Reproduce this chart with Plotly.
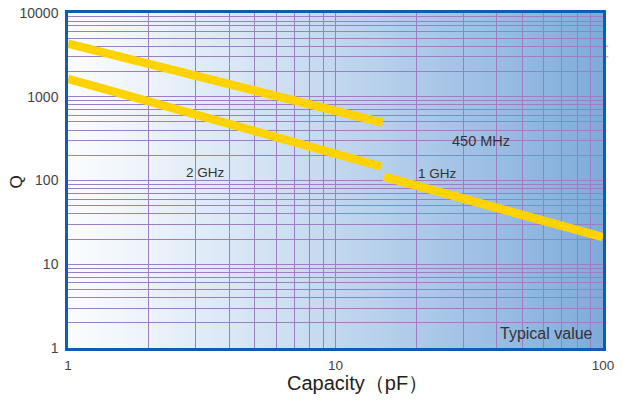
import plotly.graph_objects as go

# ---- data ----
cap_450 = [1, 15]
q_450 = [4300, 490]
cap_2g = [1, 14.8]
q_2g = [1640, 147]
cap_1g = [15.2, 100]
q_1g = [111, 21]

x_tickvals = [1, 10, 100]
x_ticktext = ["1", "10", "100"]
y_tickvals = [1, 10, 100, 1000, 10000]
y_ticktext = ["1", "10", "100", "1000", "10000"]

YELLOW = "#ffd300"
GRID = "#9c7ec3"
FRAME = "#0f5db3"
FONT = "Liberation Sans, Arial, sans-serif"

fig = go.Figure()
for cx, qy, name in [(cap_450, q_450, "450 MHz"), (cap_2g, q_2g, "2 GHz"), (cap_1g, q_1g, "1 GHz")]:
    fig.add_trace(go.Scatter(x=cx, y=qy, mode="lines", name=name,
                             line=dict(color=YELLOW, width=8.5), hoverinfo="skip"))

# horizontal gradient background (white -> blue)
shapes = []
n = 120
c0 = (250, 252, 255)
c1 = (126, 171, 219)
for i in range(n):
    t = (i + 0.5) / n
    tt = t ** 1.15
    r = round(c0[0] + (c1[0] - c0[0]) * tt)
    g = round(c0[1] + (c1[1] - c0[1]) * tt)
    b = round(c0[2] + (c1[2] - c0[2]) * tt)
    shapes.append(dict(type="rect", xref="paper", yref="paper",
                       x0=i / n, x1=(i + 1) / n + 0.002, y0=0, y1=1,
                       fillcolor=f"rgb({r},{g},{b})", line=dict(width=0), layer="below"))
# small grid overhang at right edge seen in the reference
for yv in [3000, 4000]:
    shapes.append(dict(type="line", xref="paper", yref="y", x0=1.0, x1=1.01, y0=yv, y1=yv,
                       line=dict(color="#c4b2dc", width=1.5), layer="below"))

ann_font = dict(family=FONT, size=13.5, color="#333333")
common = dict(showarrow=False, xanchor="center", yanchor="middle")
annotations = [
    dict(x=0.513, y=2.093, xref="x", yref="y", text="2 GHz", font=ann_font, **common),
    dict(x=1.545, y=2.467, xref="x", yref="y", text="450 MHz",
         font=dict(family=FONT, size=14.5, color="#333333"), **common),
    dict(x=1.380, y=2.081, xref="x", yref="y", text="1 GHz", font=ann_font, **common),
    dict(x=1.7895, y=0.179, xref="x", yref="y", text="Typical value",
         font=dict(family=FONT, size=16, color="#333333"), **common),
    dict(x=-0.0959, y=0.4964, xref="paper", yref="paper", text="Q", textangle=-90,
         font=dict(family=FONT, size=17, color="#222222"), **common),
    dict(x=0.5415, y=-0.104, xref="paper", yref="paper", text="Capacity（pF）",
         font=dict(family=FONT, size=20, color="#222222"), **common),
]

fig.update_layout(
    width=622, height=402,
    margin=dict(l=68, r=19, t=13, b=54, autoexpand=False),
    paper_bgcolor="white",
    plot_bgcolor="white",
    showlegend=False,
    hovermode=False,
    shapes=shapes,
    annotations=annotations,
    xaxis=dict(type="log", range=[0, 2], tickvals=x_tickvals, ticktext=x_ticktext,
               automargin=False,
               showgrid=True, gridcolor=GRID, gridwidth=1.3,
               minor=dict(dtick="D1", showgrid=True, gridcolor=GRID, gridwidth=1.3),
               ticks="outside", ticklen=3, tickcolor="rgba(0,0,0,0)",
               tickfont=dict(family=FONT, size=13.5, color="#444444"),
               showline=True, linecolor=FRAME, linewidth=2.5, mirror=True, zeroline=False),
    yaxis=dict(type="log", range=[0, 4], tickvals=y_tickvals, ticktext=y_ticktext,
               automargin=False,
               showgrid=True, gridcolor=GRID, gridwidth=1.3,
               minor=dict(dtick="D1", showgrid=True, gridcolor=GRID, gridwidth=1.3),
               ticks="outside", ticklen=4, tickcolor="rgba(0,0,0,0)",
               tickfont=dict(family=FONT, size=14, color="#444444"),
               showline=True, linecolor=FRAME, linewidth=2.5, mirror=True, zeroline=False),
)

fig.write_html("out.html", config={"displayModeBar": False},
               post_script="document.body.style.margin='0';document.body.style.padding='0';")
